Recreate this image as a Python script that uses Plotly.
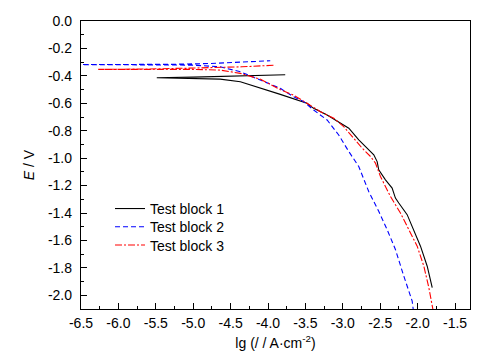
import plotly.graph_objects as go

# Test block 1 (cathodic branch from bottom up to Ecorr, then anodic branch)
x1 = [-1.805, -1.872, -1.962, -2.051, -2.14, -2.252, -2.297, -2.341, -2.43, -2.52, -2.541,
      -2.586, -2.675, -2.787, -2.92, -3.055, -3.21, -3.39, -3.48, -3.836, -4.1, -4.37,
      -4.64, -5.0, -5.487, -5.0, -4.5, -4.0, -3.77]
y1 = [-1.945, -1.788, -1.642, -1.521, -1.412, -1.327, -1.291, -1.218, -1.158, -1.085, -1.025,
      -0.976, -0.927, -0.867, -0.782, -0.734, -0.685, -0.637, -0.6, -0.535, -0.49, -0.443,
      -0.424, -0.419, -0.414, -0.409, -0.403, -0.397, -0.392]

# Test block 2
x2 = [-2.055, -2.073, -2.185, -2.297, -2.408, -2.52, -2.654, -2.787, -2.92, -3.055, -3.21,
      -3.39, -3.52, -3.66, -3.836, -4.1, -4.37, -4.64, -5.0, -5.5, -6.0, -6.7,
      -6.0, -5.3, -4.77, -4.35, -3.97]
y2 = [-2.12, -2.042, -1.86, -1.666, -1.521, -1.388, -1.243, -1.061, -0.952, -0.831, -0.722,
      -0.649, -0.589, -0.552, -0.491, -0.431, -0.37, -0.334, -0.322, -0.32, -0.319, -0.318,
      -0.318, -0.316, -0.31, -0.30, -0.29]

# Test block 3
x3 = [-1.79, -1.85, -1.917, -2.006, -2.118, -2.23, -2.364, -2.497, -2.564, -2.63, -2.742,
      -2.854, -2.988, -3.121, -3.3, -3.478, -3.66, -3.836, -4.1, -4.37, -4.64, -5.0, -5.6,
      -6.27, -5.6, -5.0, -4.35, -3.9]
y3 = [-2.12, -1.945, -1.788, -1.642, -1.521, -1.4, -1.279, -1.134, -1.036, -0.988, -0.927,
      -0.855, -0.77, -0.709, -0.661, -0.6, -0.54, -0.50, -0.425, -0.382, -0.358, -0.353, -0.352,
      -0.353, -0.35, -0.343, -0.334, -0.322]

names = ["Test block 1", "Test block 2", "Test block 3"]
xtick_vals = [-6.5, -6.0, -5.5, -5.0, -4.5, -4.0, -3.5, -3.0, -2.5, -2.0, -1.5]
ytick_vals = [0.0, -0.2, -0.4, -0.6, -0.8, -1.0, -1.2, -1.4, -1.6, -1.8, -2.0]

FONT = "Liberation Sans, Arial, sans-serif"

fig = go.Figure()
fig.add_trace(go.Scatter(x=x1, y=y1, mode="lines", name=names[0], legend="legend",
                         line=dict(color="black", width=1.1)))
fig.add_trace(go.Scatter(x=x2, y=y2, mode="lines", name=names[1], legend="legend2",
                         line=dict(color="#0000ff", width=1.1, dash="5px,3px")))
fig.add_trace(go.Scatter(x=x3, y=y3, mode="lines", name=names[2], legend="legend3",
                         line=dict(color="#ff0000", width=1.1, dash="7px,2px,2px,2px")))

leg = dict(x=0.0746, xanchor="left", yanchor="top", bgcolor="rgba(0,0,0,0)",
           borderwidth=0, font=dict(family=FONT, size=14, color="black"))

fig.update_layout(
    width=476, height=354,
    margin=dict(l=73, r=14, t=13, b=53),
    paper_bgcolor="white", plot_bgcolor="white",
    font=dict(family=FONT, size=14, color="black"),
    showlegend=True,
    legend=dict(leg, y=0.403),
    legend2=dict(leg, y=0.3396),
    legend3=dict(leg, y=0.2762),
)
fig.update_xaxes(
    range=[-6.5, -1.3], tickvals=xtick_vals, ticktext=[f"{v:.1f}" for v in xtick_vals],
    ticks="inside", ticklen=6, tickwidth=1, tickcolor="black",
    minor=dict(ticks="inside", ticklen=3, dtick=0.25, tick0=-6.5, tickcolor="black"),
    showline=True, linecolor="black", linewidth=1.3, mirror=True,
    showgrid=False, zeroline=False, automargin=False,
    title=dict(text="lg (/ / A·cm<sup>-2</sup>)", font=dict(size=14), standoff=8),
    ticklabelstandoff=1,
)
fig.update_yaxes(
    range=[-2.1, 0.0], tickvals=ytick_vals, ticktext=[f"{v:.1f}" for v in ytick_vals],
    ticks="inside", ticklen=6, tickwidth=1, tickcolor="black",
    minor=dict(ticks="inside", ticklen=3, dtick=0.1, tick0=0, tickcolor="black"),
    showline=True, linecolor="black", linewidth=1.3, mirror=True,
    showgrid=False, zeroline=False, automargin=False,
    title=dict(text="<i>E</i> / V", font=dict(size=14), standoff=10),
    ticklabelstandoff=5,
)
fig.write_html("out.html")
